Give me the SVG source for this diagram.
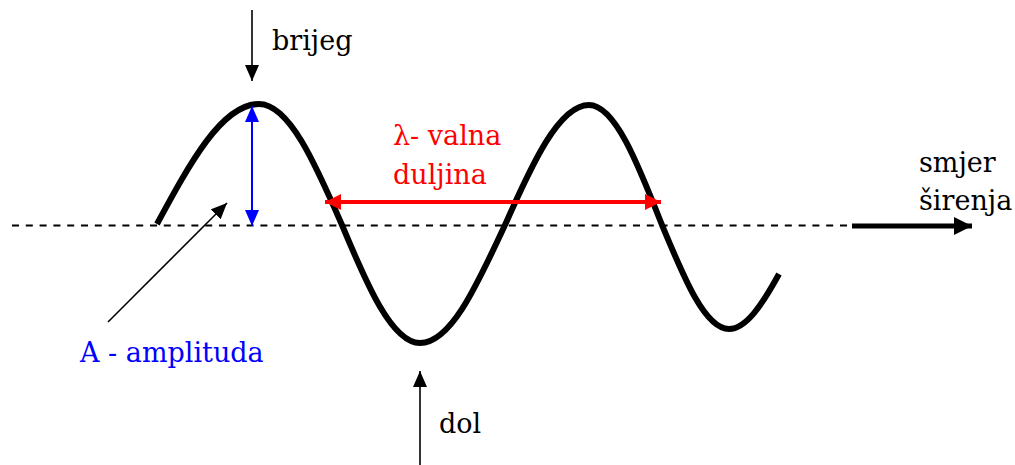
<svg xmlns="http://www.w3.org/2000/svg" width="1015" height="465" viewBox="0 0 1015 465">
<defs>
<style>
text{font-family:"DejaVu Serif",serif;font-size:27px}
.blk{fill:#000}
.red{fill:#ff0000}
.blue{fill:#0000ff}
</style>
<marker id="ah" viewBox="0 0 16 14" refX="16" refY="7" markerWidth="16" markerHeight="14" markerUnits="userSpaceOnUse" orient="auto"><path d="M0,0 L16,7 L0,14 Z" fill="#000"/></marker>
<marker id="ahb" viewBox="0 0 16 14" refX="16" refY="7" markerWidth="16" markerHeight="14" markerUnits="userSpaceOnUse" orient="auto-start-reverse"><path d="M0,0 L16,7 L0,14 Z" fill="#0000ff"/></marker>
<marker id="ahr" viewBox="0 0 16 16" refX="16" refY="8" markerWidth="16" markerHeight="16" markerUnits="userSpaceOnUse" orient="auto-start-reverse"><path d="M0,0 L16,8 L0,16 Z" fill="#ff0000"/></marker>
<marker id="ahk" viewBox="0 0 18 18" refX="18" refY="9" markerWidth="18" markerHeight="18" markerUnits="userSpaceOnUse" orient="auto"><path d="M0,0 L18,9 L0,18 Z" fill="#000"/></marker>
</defs>
<rect width="1015" height="465" fill="#fff"/>
<g id="axis">
<line x1="12" y1="225.5" x2="850" y2="225.5" stroke="#000" stroke-width="1.8" stroke-dasharray="7,6.8"/>
</g>
<g id="wave">
<path d="M157,224 C190,163 222,104 259,104 C289,104 315,163 342,225 C367,285 392,343 420,343 C451,343 477,285 505,225 C532,164 559,105 589,105 C615,105 638,164 662,225 C684,278 705,329 729,329 C746,329 762,305 779,274" fill="none" stroke="#000" stroke-width="6" stroke-linejoin="round"/>
</g>
<g id="connectors">
<line x1="252" y1="10" x2="252" y2="81" stroke="#000" stroke-width="1.6" marker-end="url(#ah)"/>
<line x1="252" y1="106" x2="252" y2="226" stroke="#0000ff" stroke-width="2" marker-start="url(#ahb)" marker-end="url(#ahb)"/>
<line x1="108" y1="322" x2="227" y2="203" stroke="#000" stroke-width="1.6" marker-end="url(#ah)"/>
<line x1="420" y1="465" x2="420" y2="371" stroke="#000" stroke-width="1.6" marker-end="url(#ah)"/>
<line x1="325" y1="202" x2="661" y2="202" stroke="#ff0000" stroke-width="4" marker-start="url(#ahr)" marker-end="url(#ahr)"/>
<line x1="852" y1="226" x2="972" y2="226" stroke="#000" stroke-width="5" marker-end="url(#ahk)"/>
</g>
<g id="label-brijeg"><text class="blk" x="272" y="50">brijeg</text></g>
<g id="label-dol"><text class="blk" x="439" y="433">dol</text></g>
<g id="label-amplituda"><text class="blue" x="80" y="362">A - amplituda</text></g>
<g id="label-lambda"><text class="red" x="393" y="145">λ- valna</text><text class="red" x="393" y="184">duljina</text></g>
<g id="label-smjer"><text class="blk" x="919" y="172">smjer</text><text class="blk" x="919" y="210">širenja</text></g>
</svg>
